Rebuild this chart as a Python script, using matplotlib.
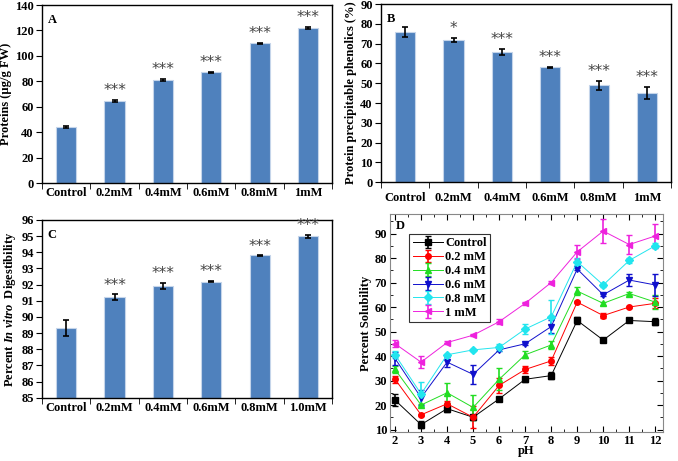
import matplotlib
matplotlib.use('Agg')
import matplotlib.pyplot as plt
import numpy as np

plt.rcParams['font.family'] = 'Liberation Serif'
plt.rcParams['font.weight'] = 'bold'
plt.rcParams['axes.labelweight'] = 'bold'
plt.rcParams['mathtext.fontset'] = 'custom'
plt.rcParams['mathtext.it'] = 'Liberation Serif:italic:bold'
plt.rcParams['mathtext.rm'] = 'Liberation Serif:bold'

# ---- data ----
cats_ab = ['Control', '0.2mM', '0.4mM', '0.6mM', '0.8mM', '1mM']
cats_c = ['Control', '0.2mM', '0.4mM', '0.6mM', '0.8mM', '1.0mM']

proteins = [44, 64.5, 81, 87, 110, 122]
proteins_err = [0.5, 0.5, 0.6, 0.5, 0.5, 0.6]
proteins_sig = ['', '***', '***', '***', '***', '***']

phenolics = [76, 72, 66, 58, 49, 45]
phenolics_err = [2.5, 1.0, 1.5, 0.3, 2.2, 3.0]
phenolics_sig = ['', '*', '***', '***', '***', '***']

digest = [89.3, 91.22, 91.92, 92.18, 93.8, 94.98]
digest_err = [0.5, 0.17, 0.18, 0.04, 0.02, 0.1]
digest_sig = ['', '***', '***', '***', '***', '***']

ph = [2, 3, 4, 5, 6, 7, 8, 9, 10, 11, 12]
sol_labels = ['Control', '0.2 mM', '0.4 mM', '0.6 mM', '0.8 mM', '1 mM']
sol_control = [22, 12, 18.5, 15, 22.5, 30.5, 32, 54.5, 46.5, 54.5, 54]
sol_control_err = [2.5, 1.5, 1.5, 1, 0.5, 1, 1.5, 1.5, 0.5, 0.5, 1.5]
sol_02 = [30.5, 16, 20.5, 15, 28, 34.5, 38, 62, 56.5, 60, 61.5]
sol_02_err = [1.5, 0.5, 1, 4.5, 3, 1.5, 1.5, 0.5, 1, 0.5, 2]
sol_04 = [34.5, 20, 25, 19, 30.5, 40.5, 44.5, 66.5, 61.5, 65.5, 62]
sol_04_err = [1.5, 0.5, 4, 5, 4.5, 1.5, 1.5, 1.5, 0.5, 0.5, 3]
sol_06 = [39, 23, 37.5, 32.5, 42.5, 45, 52, 75.5, 65, 71, 69]
sol_06_err = [2.5, 3, 2, 4, 0.5, 0.5, 2.5, 0.5, 0.5, 2.5, 4.5]
sol_08 = [40.5, 24.5, 40.5, 42.5, 43.5, 51, 56, 78.5, 69, 79, 85]
sol_08_err = [1.5, 5, 0.5, 0.5, 1.5, 2, 7, 1.5, 1, 1, 1]
sol_1 = [45, 37.5, 45.5, 48.5, 54, 61.5, 70, 82.5, 91, 85.5, 89]
sol_1_err = [1.5, 2.5, 0.5, 0.5, 1, 0.5, 0.5, 3, 5, 4, 5]

bar_color = '#4F81BD'
FS = 9


def bar_panel(ax, cats, vals, errs, sig, ylim, yticks, ylabel, letter, star_off, tickpad):
    x = np.arange(len(cats))
    base = ylim[0]
    ax.bar(x, np.array(vals) - base, 0.42, bottom=base, color=bar_color,
           edgecolor='#c5d5ea', linewidth=0.8, zorder=2)
    ax.errorbar(x, vals, yerr=errs, fmt='none', ecolor='black', elinewidth=1.2,
                capsize=2.5, capthick=1.2, zorder=3)
    for xi, v, e, s in zip(x, vals, errs, sig):
        if s:
            ax.text(xi, v + e + star_off, s, ha='center', va='bottom',
                    fontsize=11, color='#444444', family='DejaVu Sans',
                    fontweight='normal')
    ax.set_xlim(-0.5, len(cats) - 0.5)
    ax.set_ylim(*ylim)
    ax.set_yticks(yticks)
    ax.set_xticks(x)
    ax.set_xticklabels(cats, fontsize=FS)
    ax.set_xticks(np.arange(len(cats) + 1) - 0.5, minor=True)
    ax.tick_params(axis='x', which='major', length=0, pad=tickpad)
    ax.tick_params(axis='x', which='minor', length=4, direction='out')
    ax.tick_params(axis='y', labelsize=FS, direction='out', length=4, pad=2)
    ax.set_ylabel(ylabel, fontsize=FS, labelpad=2)
    for sp in ax.spines.values():
        sp.set_linewidth(1.0)
    ax.text(0.02, 0.95, letter, transform=ax.transAxes, fontsize=FS,
            fontweight='bold', va='top', ha='left')


fig = plt.figure(figsize=(6.78, 4.61), dpi=100)

axA = fig.add_axes([0.062, 0.603, 0.428, 0.386])
bar_panel(axA, cats_ab, proteins, proteins_err, proteins_sig, (0, 140),
          range(0, 141, 20), 'Proteins (µg/g FW)', 'A', 1.5, 3)

axB = fig.add_axes([0.562, 0.605, 0.428, 0.386])
bar_panel(axB, cats_ab, phenolics, phenolics_err, phenolics_sig, (0, 90),
          range(0, 91, 10), 'Protein precipitable phenolics (%)', 'B', 1.0, 7)

axC = fig.add_axes([0.062, 0.137, 0.428, 0.386])
bar_panel(axC, cats_c, digest, digest_err, digest_sig, (85, 96),
          range(85, 97, 1), r'Percent $\mathit{In\ vitro}$  Digestibility', 'C', 0.1, 3)

# ---- panel D ----
axD = fig.add_axes([0.575, 0.063, 0.403, 0.473])
series = [
    (sol_control, sol_control_err, 'black', 's'),
    (sol_02, sol_02_err, 'red', 'o'),
    (sol_04, sol_04_err, '#22dd22', '^'),
    (sol_06, sol_06_err, '#1010cc', 'v'),
    (sol_08, sol_08_err, '#22e5ee', 'D'),
    (sol_1, sol_1_err, '#ee22dd', '<'),
]
for (vals, errs, col, mk), lab in zip(series, sol_labels):
    axD.errorbar(ph, vals, yerr=errs, color=col, marker=mk, markersize=4,
                 linewidth=0.7, elinewidth=1.2, capsize=2, capthick=1,
                 label=lab)
axD.set_xlim(1.8, 12.3)
axD.set_ylim(9, 98)
axD.set_xticks(ph)
axD.set_yticks(range(10, 91, 10))
axD.set_xticks(np.arange(2, 12.01, 0.5), minor=True)
axD.set_yticks(range(15, 96, 10), minor=True)
axD.tick_params(axis='both', which='both', direction='in', top=True, right=True,
                labelsize=FS)
axD.tick_params(which='major', length=4, pad=2)
axD.tick_params(which='minor', length=2)
axD.set_xlabel('pH', fontsize=FS, labelpad=-1)
axD.set_ylabel('Percent Solubility', fontsize=FS, labelpad=2)
for sp in axD.spines.values():
    sp.set_color('#888888')
axD.text(0.02, 0.97, 'D', transform=axD.transAxes, fontsize=FS,
         fontweight='bold', va='top', ha='left')
leg = axD.legend(loc='upper left', bbox_to_anchor=(0.07, 0.91),
                 frameon=True, fancybox=False, edgecolor='black',
                 borderpad=0.3, labelspacing=0.15, handlelength=2.4,
                 handletextpad=0.2, borderaxespad=0,
                 prop={'weight': 'bold', 'size': FS})
leg.get_frame().set_linewidth(0.8)

fig.savefig('out.png', dpi=100)
